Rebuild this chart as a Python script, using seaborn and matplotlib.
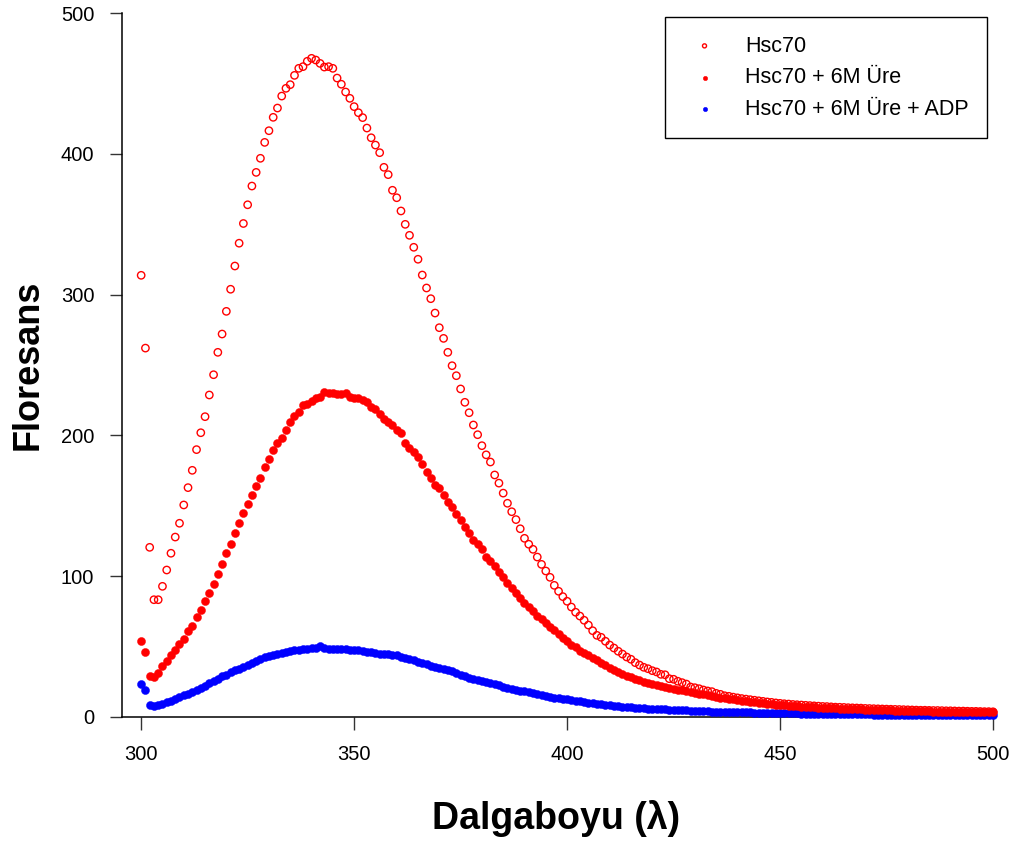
import numpy as np
import pandas as pd
import matplotlib
matplotlib.use("Agg")
import matplotlib.pyplot as plt
import seaborn as sns

# Wavelengths (nm), one reading per nm from 300 to 500
wavelength = list(range(300, 501))

# Hsc70 (open red circles)
hsc70 = [
    313.7, 262.0, 120.5, 83.3, 83.3, 92.8, 104.4, 116.3, 127.8, 137.6,          # 300-309
    150.6, 162.9, 175.2, 189.9, 201.9, 213.3, 228.7, 243.1, 259.0, 272.0,       # 310-319
    288.1, 303.8, 320.3, 336.5, 350.5, 363.8, 377.1, 386.8, 396.8, 408.1,       # 320-329
    416.4, 425.9, 432.5, 441.0, 446.5, 449.1, 455.7, 460.7, 461.9, 465.7,       # 330-339
    467.8, 466.6, 464.2, 461.6, 461.9, 460.7, 453.8, 449.4, 443.9, 439.4,       # 340-349
    433.5, 429.2, 425.7, 418.3, 411.4, 406.2, 400.8, 390.4, 385.2, 374.1,       # 350-359
    368.8, 359.4, 349.9, 342.1, 333.6, 325.1, 313.9, 304.7, 297.1, 286.9,       # 360-369
    276.5, 268.9, 259.0, 249.5, 242.4, 233.0, 223.5, 216.1, 207.4, 200.5,       # 370-379
    192.7, 186.2, 181.1, 171.9, 166.1, 159.0, 151.8, 145.8, 140.2, 133.7,       # 380-389
    126.9, 122.7, 119.1, 113.6, 108.4, 103.7, 99.2, 93.5, 89.3, 85.5,           # 390-399
    82.2, 78.1, 74.4, 71.7, 68.7, 65.3, 61.3, 58.0, 56.6, 53.8,                 # 400-409
    51.1, 49.0, 46.7, 44.7, 42.6, 41.0, 38.6, 36.9, 35.3, 34.3,                 # 410-419
    32.9, 32.0, 30.3, 30.0, 27.2, 26.8, 25.4, 24.4, 23.4, 21.3,                 # 420-429
    20.8, 20.1, 19.2, 18.5, 18.0, 16.8, 16.1, 15.1, 14.7, 14.1,                 # 430-439
    13.6, 13.1, 12.7, 12.3, 11.9, 11.5, 11.1, 10.7, 10.4, 10.0,                 # 440-449
    9.7, 9.4, 9.2, 8.9, 8.7, 8.5, 8.3, 8.1, 7.9, 7.7,                           # 450-459
    7.5, 7.4, 7.2, 7.0, 6.9, 6.8, 6.6, 6.5, 6.4, 6.3,                           # 460-469
    6.1, 6.0, 5.9, 5.8, 5.7, 5.6, 5.5, 5.4, 5.3, 5.2,                           # 470-479
    5.1, 5.0, 4.9, 4.8, 4.8, 4.7, 4.6, 4.6, 4.5, 4.4,                           # 480-489
    4.4, 4.3, 4.2, 4.2, 4.1, 4.0, 4.0, 3.9, 3.8, 3.8,                           # 490-499
    3.7,                                                                        # 500
]

# Hsc70 + 6M Üre (filled red circles)
hsc70_ure = [
    54.0, 45.9, 29.1, 28.6, 31.0, 36.2, 40.0, 44.3, 47.8, 51.6,                 # 300-309
    55.2, 61.3, 64.6, 71.2, 76.0, 82.4, 88.1, 94.5, 101.6, 108.4,               # 310-319
    116.3, 122.7, 130.5, 137.8, 144.7, 151.3, 157.9, 164.1, 169.7, 177.6,       # 320-329
    183.2, 189.6, 194.8, 198.4, 204.1, 209.3, 213.6, 216.4, 221.8, 222.3,       # 330-339
    224.4, 226.8, 227.1, 230.8, 230.3, 229.9, 229.2, 229.4, 229.9, 227.0,       # 340-349
    226.8, 226.3, 225.1, 223.7, 220.4, 219.0, 215.4, 211.4, 209.7, 207.2,       # 350-359
    204.1, 201.5, 194.8, 191.3, 188.2, 184.9, 179.7, 174.0, 169.7, 164.6,       # 360-369
    162.4, 157.5, 152.9, 148.9, 143.9, 139.7, 134.9, 130.7, 125.9, 122.9,       # 370-379
    119.1, 113.9, 111.0, 107.0, 103.0, 99.2, 95.4, 91.4, 88.1, 84.7,            # 380-389
    81.0, 78.1, 75.1, 71.7, 69.4, 66.5, 64.1, 61.6, 58.7, 56.1,                 # 390-399
    53.8, 51.3, 49.5, 47.1, 45.2, 43.8, 41.7, 40.3, 38.1, 36.7,                 # 400-409
    35.0, 33.4, 31.7, 30.3, 29.3, 28.2, 27.0, 26.1, 25.2, 24.4,                 # 410-419
    23.7, 23.0, 22.2, 21.5, 20.8, 20.2, 19.5, 18.9, 18.3, 17.7,                 # 420-429
    17.1, 16.5, 16.0, 15.4, 14.9, 14.3, 13.8, 13.3, 12.9, 12.5,                 # 430-439
    12.1, 11.7, 11.3, 10.9, 10.5, 10.2, 9.8, 9.5, 9.1, 8.8,                     # 440-449
    8.5, 8.2, 7.9, 7.7, 7.5, 7.3, 7.1, 7.0, 6.8, 6.7,                           # 450-459
    6.5, 6.4, 6.2, 6.1, 6.0, 5.8, 5.7, 5.6, 5.5, 5.4,                           # 460-469
    5.3, 5.2, 5.1, 5.0, 4.9, 4.8, 4.7, 4.6, 4.5, 4.4,                           # 470-479
    4.4, 4.3, 4.2, 4.1, 4.0, 4.0, 3.9, 3.9, 3.8, 3.8,                           # 480-489
    3.7, 3.7, 3.6, 3.6, 3.5, 3.5, 3.4, 3.3, 3.3, 3.2,                           # 490-499
    3.2,                                                                        # 500
]

# Hsc70 + 6M Üre + ADP (filled blue circles)
hsc70_ure_adp = [
    23.4, 19.4, 8.7, 7.6, 8.3, 9.4, 10.7, 11.6, 12.8, 14.0,                     # 300-309
    15.4, 16.3, 17.8, 19.2, 20.8, 22.2, 23.9, 25.6, 27.2, 28.9,                 # 310-319
    30.0, 31.7, 33.2, 34.3, 35.7, 37.1, 38.6, 39.8, 41.0, 42.4,                 # 320-329
    43.1, 44.0, 45.0, 45.7, 46.2, 46.9, 47.3, 47.8, 48.1, 48.5,                 # 330-339
    49.2, 48.8, 50.2, 48.8, 48.3, 48.3, 48.3, 48.3, 48.1, 47.8,                 # 340-349
    47.6, 47.3, 46.9, 46.4, 45.9, 45.2, 45.0, 44.7, 44.5, 44.0,                 # 350-359
    43.8, 42.8, 41.9, 41.0, 40.3, 39.3, 38.6, 37.4, 36.2, 35.4,                 # 360-369
    34.6, 33.9, 33.2, 32.4, 31.3, 30.1, 29.0, 28.0, 27.2, 26.5,                 # 370-379
    25.8, 25.1, 24.2, 23.3, 22.4, 21.6, 20.9, 20.2, 19.5, 18.8,                 # 380-389
    18.2, 17.6, 17.0, 16.4, 15.7, 15.0, 14.3, 13.8, 13.3, 12.9,                 # 390-399
    12.5, 12.1, 11.6, 11.1, 10.6, 10.2, 9.7, 9.3, 8.9, 8.5,                     # 400-409
    8.2, 7.9, 7.6, 7.4, 7.1, 6.9, 6.6, 6.4, 6.2, 6.0,                           # 410-419
    5.9, 5.7, 5.5, 5.4, 5.2, 5.1, 4.9, 4.8, 4.7, 4.5,                           # 420-429
    4.4, 4.3, 4.2, 4.0, 3.9, 3.8, 3.7, 3.6, 3.5, 3.5,                           # 430-439
    3.4, 3.3, 3.2, 3.2, 3.1, 3.0, 3.0, 2.9, 2.8, 2.8,                           # 440-449
    2.7, 2.6, 2.6, 2.5, 2.5, 2.4, 2.4, 2.3, 2.3, 2.2,                           # 450-459
    2.2, 2.1, 2.1, 2.0, 2.0, 2.0, 1.9, 1.9, 1.9, 1.8,                           # 460-469
    1.8, 1.8, 1.7, 1.7, 1.7, 1.7, 1.6, 1.6, 1.6, 1.6,                           # 470-479
    1.5, 1.5, 1.5, 1.5, 1.5, 1.4, 1.4, 1.4, 1.4, 1.4,                           # 480-489
    1.3, 1.3, 1.3, 1.3, 1.3, 1.3, 1.2, 1.2, 1.2, 1.2,                           # 490-499
    1.2,                                                                        # 500
]

series_labels = ["Hsc70", "Hsc70 + 6M Üre", "Hsc70 + 6M Üre + ADP"]
x_ticks = [300, 350, 400, 450, 500]
y_ticks = [0, 100, 200, 300, 400, 500]

assert len(hsc70) == len(wavelength)
assert len(hsc70_ure) == len(wavelength)
assert len(hsc70_ure_adp) == len(wavelength)

sns.set_style("white")
plt.rcParams["font.family"] = ["Liberation Sans", "DejaVu Sans"]
plt.rcParams["text.color"] = "black"
plt.rcParams["axes.labelcolor"] = "black"
plt.rcParams["xtick.color"] = "black"
plt.rcParams["ytick.color"] = "black"

fig = plt.figure(figsize=(10.10, 8.44), dpi=100)
ax = fig.add_axes([122 / 1010, 1 - 717 / 844, (993 - 122) / 1010, (717 - 13) / 844])

df = pd.DataFrame({
    "wl": wavelength,
    "a": hsc70,
    "b": hsc70_ure,
    "c": hsc70_ure_adp,
})

sns.scatterplot(data=df, x="wl", y="c", ax=ax, marker="o", s=34,
                color="#0000ff", edgecolor="#0000ff", linewidth=0.3,
                label=series_labels[2], zorder=3, clip_on=False)
sns.scatterplot(data=df, x="wl", y="b", ax=ax, marker="o", s=34,
                color="#ff0000", edgecolor="#ff0000", linewidth=0.3,
                label=series_labels[1], zorder=4, clip_on=False)
sns.scatterplot(data=df, x="wl", y="a", ax=ax, marker="o", s=28,
                facecolors="none", edgecolors="#ff0000", linewidths=1.0,
                label=series_labels[0], zorder=5, clip_on=False)

ax.set_xlim(295.5, 500)
ax.set_ylim(0, 500)
ax.set_xticks(x_ticks)
ax.set_yticks(y_ticks)
ax.set_xticklabels([str(t) for t in x_ticks])
ax.set_yticklabels([str(t) for t in y_ticks])

for side in ["top", "right"]:
    ax.spines[side].set_visible(False)
for side in ["left", "bottom"]:
    ax.spines[side].set_color("black")
    ax.spines[side].set_linewidth(1.1)

ax.tick_params(axis="both", direction="out", length=9, width=1.0, color="#333333",
               labelcolor="black", pad=11, labelsize=14.5, left=True, bottom=True)

ax.set_xlabel("Dalgaboyu (λ)", fontsize=27, fontweight="bold", color="black")
ax.set_ylabel("Floresans", fontsize=26, fontweight="bold", color="black")
ax.xaxis.set_label_coords((556 - 122) / 871, (717 - 800) / 704)
ax.yaxis.set_label_coords((46 - 122) / 871, 0.5)

handles, labels = ax.get_legend_handles_labels()
order = [labels.index(l) for l in series_labels]
leg = ax.legend([handles[i] for i in order], [labels[i] for i in order],
                loc="upper right", bbox_to_anchor=(0.9935, 0.994),
                frameon=True, fancybox=False, edgecolor="black", framealpha=1,
                fontsize=15.5, markerscale=0.55, handletextpad=0.9,
                borderpad=0.85, labelspacing=0.5, borderaxespad=0,
                handlelength=2.0)
leg.get_frame().set_linewidth(1.0)
for t in leg.get_texts():
    t.set_color("black")

fig.savefig("out.png", dpi=100)
